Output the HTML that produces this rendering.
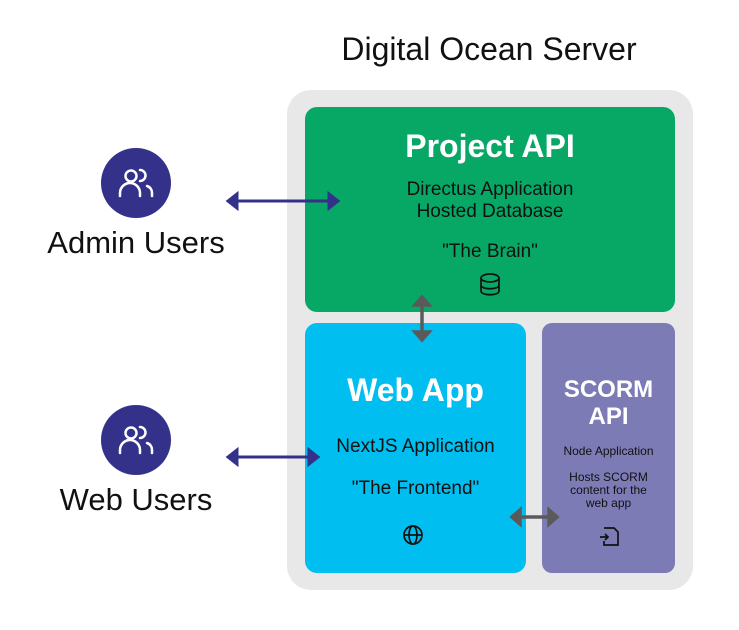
<!DOCTYPE html>
<html><head><style>
body{margin:0;width:739px;height:630px;background:#fff;font-family:"Liberation Sans",sans-serif;position:relative;overflow:hidden}
div{position:absolute;box-sizing:border-box}
.t{text-align:center;color:#111}
</style></head><body>
<div class="t" style="left:239px;top:31px;width:500px;font-size:32px">Digital Ocean Server</div>
<div style="left:287px;top:90px;width:406px;height:500px;background:#e8e8e8;border-radius:24px"></div>
<div style="left:305px;top:107px;width:370px;height:205px;background:#07a866;border-radius:12px"></div>
<div style="left:305px;top:323px;width:221px;height:250px;background:#00bff0;border-radius:12px"></div>
<div style="left:542px;top:323px;width:133px;height:250px;background:#7d7bb5;border-radius:10px"></div>
<div class="t" style="left:305px;top:128px;width:370px;font-size:32px;font-weight:bold;color:#fff">Project API</div>
<div class="t" style="left:305px;top:179px;width:370px;font-size:19px;line-height:22px">Directus Application<br>Hosted Database</div>
<div class="t" style="left:305px;top:241px;width:370px;font-size:19px">"The Brain"</div>
<div class="t" style="left:305px;top:372px;width:221px;font-size:32px;font-weight:bold;color:#fff">Web App</div>
<div class="t" style="left:305px;top:436px;width:221px;font-size:19px">NextJS Application</div>
<div class="t" style="left:305px;top:478px;width:221px;font-size:19px">"The Frontend"</div>
<div class="t" style="left:542px;top:376px;width:133px;font-size:24px;font-weight:bold;color:#fff;line-height:27px">SCORM<br>API</div>
<div class="t" style="left:542px;top:444px;width:133px;font-size:12px">Node Application</div>
<div class="t" style="left:542px;top:471px;width:133px;font-size:12px;line-height:13px">Hosts SCORM<br>content for the<br>web app</div>
<div style="left:101px;top:148px;width:70px;height:70px;border-radius:50%;background:#34318a"></div>
<div style="left:101px;top:405px;width:70px;height:70px;border-radius:50%;background:#34318a"></div>
<div class="t" style="left:0;top:225px;width:272px;font-size:31px">Admin Users</div>
<div class="t" style="left:0;top:482px;width:272px;font-size:31px">Web Users</div>
<svg width="739" height="630" style="position:absolute;left:0;top:0">
<g fill="none" stroke="#fff" stroke-width="2.5" stroke-linecap="round">
<circle cx="131" cy="176" r="5.5"/><path d="M120 196v-3a9 9 0 0 1 20 0v3M140 170a5.5 5.5 0 0 1 0 11M152 196v-3a7 7 0 0 0-5-7"/>
<circle cx="131" cy="433" r="5.5"/><path d="M120 453v-3a9 9 0 0 1 20 0v3M140 427a5.5 5.5 0 0 1 0 11M152 453v-3a7 7 0 0 0-5-7"/>
</g>
<g stroke="#34318a" stroke-width="3" fill="#34318a">
<line x1="232" y1="201" x2="334" y2="201"/><path d="M228 201l9-7v14zM338 201l-9-7v14z"/>
<line x1="232" y1="457" x2="314" y2="457"/><path d="M228 457l9-7v14zM318 457l-9-7v14z"/>
</g>
<g stroke="#5a5a5a" stroke-width="3.5" fill="#5a5a5a">
<line x1="422" y1="300" x2="422" y2="337"/><path d="M422 297l-7 8h14zM422 340l-7-8h14z"/>
<line x1="515" y1="517" x2="554" y2="517"/><path d="M512 517l8-7v14zM557 517l-8-7v14z"/>
</g>
<g fill="none" stroke="#111" stroke-width="1.7">
<ellipse cx="490" cy="278" rx="9" ry="4"/><path d="M481 278v13c0 5 18 5 18 0v-13M481 285c0 5 18 5 18 0"/>
<circle cx="413" cy="535" r="9"/><ellipse cx="413" cy="535" rx="4" ry="9"/><path d="M404 535h18"/>
<path d="M604 528h10l4 4v13h-14v-4M600 537h8M605 534l3 3-3 3"/>
</g>
</svg>
</body></html>
